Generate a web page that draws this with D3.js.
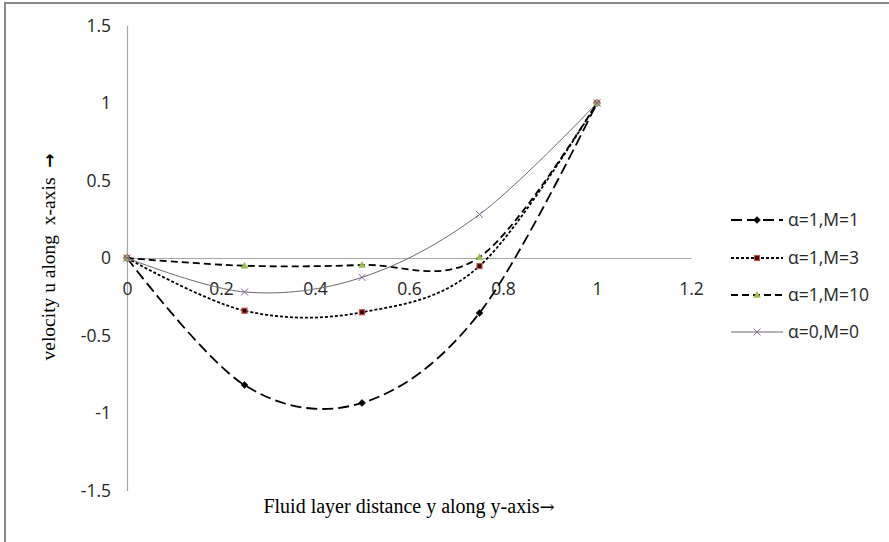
<!DOCTYPE html>
<html>
<head>
<meta charset="utf-8">
<script src="https://cdn.jsdelivr.net/npm/d3@7"></script>
<style>
  html, body { margin: 0; padding: 0; background: #fff; }
  svg { display: block; }
</style>
</head>
<body>
<svg id="chart" width="889" height="542"></svg>
<script>
// ---- data ----
const xValues = [0, 0.25, 0.5, 0.75, 1];
const seriesNames = ["α=1,M=1", "α=1,M=3", "α=1,M=10", "α=0,M=0"];
const valuesM1 = [0, -0.82, -0.935, -0.355, 1];
const valuesM3 = [0, -0.34, -0.35, -0.052, 1];
const valuesM10 = [0, -0.05, -0.045, 0.005, 1];
const valuesM0 = [0, -0.219, -0.125, 0.281, 1];
const xTicks = [0, 0.2, 0.4, 0.6, 0.8, 1, 1.2];
const yTicks = [-1.5, -1, -0.5, 0, 0.5, 1, 1.5];
const xTitle = "Fluid layer distance y along y-axis";
const yTitle = "velocity u along  x-axis  ";
const arrow = "→";

const allValues = [valuesM1, valuesM3, valuesM10, valuesM0];
const styles = [
  { stroke: "#000", width: 1.8, dash: "11,5", marker: "diamond", mfill: "#000", mstroke: "#000" },
  { stroke: "#000", width: 1.8, dash: "3,2", marker: "square", mfill: "#300", mstroke: "#c0504d" },
  { stroke: "#000", width: 1.8, dash: "7,4", marker: "triangle", mfill: "#9bbb59", mstroke: "#9bbb59" },
  { stroke: "#6a6a6a", width: 1, dash: null, marker: "cross", mfill: "none", mstroke: "#8064a2" }
];

const svg = d3.select("#chart");
const fmt = d => String(d).replace("\u2212", "-");

// outer border
svg.append("path")
  .attr("d", "M5,542 L5,3 L889,3")
  .attr("fill", "none").attr("stroke", "#8a8a8a").attr("stroke-width", 2);

const x = d3.scaleLinear().domain([0, 1.2]).range([127, 691]);
const y = d3.scaleLinear().domain([-1.5, 1.5]).range([490.5, 25.5]);

const tickFont = "Open Sans, Liberation Sans, Arial, sans-serif";
const tickSize = "17.5px";

// axes
const yAxis = svg.append("g").attr("transform", `translate(${x(0)},0)`)
  .call(d3.axisLeft(y).tickValues(yTicks).tickSize(0).tickPadding(16).tickFormat(fmt));
yAxis.select(".domain").attr("stroke", "#a6a6a6").attr("stroke-width", 1.2);
yAxis.selectAll("text").attr("font-family", tickFont)
  .attr("font-size", tickSize).attr("fill", "#262626");

const xAxis = svg.append("g").attr("transform", `translate(0,${y(0)})`)
  .call(d3.axisBottom(x).tickValues(xTicks).tickSize(0).tickPadding(25).tickFormat(fmt));
xAxis.select(".domain").attr("stroke", "#a6a6a6").attr("stroke-width", 1.2);
xAxis.selectAll("text").attr("font-family", tickFont)
  .attr("font-size", tickSize).attr("fill", "#262626");

// titles
const xt = svg.append("text").attr("x", 409).attr("y", 513).attr("text-anchor", "middle")
  .attr("font-family", "Liberation Serif, Times New Roman, serif").attr("font-size", "20px")
  .attr("fill", "#000");
xt.append("tspan").text(xTitle);
xt.append("tspan").attr("font-family", "DejaVu Serif, serif").attr("font-size", "18px").text(arrow);

const yt = svg.append("text").attr("transform", "translate(55,257) rotate(-90)").attr("text-anchor", "middle")
  .attr("font-family", "Liberation Serif, Times New Roman, serif").attr("font-size", "19.5px")
  .attr("fill", "#000").style("white-space", "pre");
yt.append("tspan").text(yTitle);
yt.append("tspan").attr("font-family", "DejaVu Sans, sans-serif").attr("font-weight", "bold")
  .attr("font-size", "17px").text(arrow);

function drawMarker(g, type, cx, cy, st) {
  if (type === "diamond") {
    g.append("path").attr("d", `M${cx},${cy-3.5}L${cx+3.5},${cy}L${cx},${cy+3.5}L${cx-3.5},${cy}Z`)
      .attr("fill", st.mfill).attr("stroke", st.mstroke).attr("stroke-width", 0.5);
  } else if (type === "square") {
    g.append("rect").attr("x", cx - 2.5).attr("y", cy - 2.5).attr("width", 5).attr("height", 5)
      .attr("fill", st.mfill).attr("stroke", st.mstroke).attr("stroke-width", 1.2);
  } else if (type === "triangle") {
    g.append("path").attr("d", `M${cx},${cy-3.5}L${cx+3.5},${cy+2.5}L${cx-3.5},${cy+2.5}Z`)
      .attr("fill", st.mfill).attr("stroke", st.mstroke).attr("stroke-width", 0.5);
  } else if (type === "cross") {
    g.append("path").attr("d", `M${cx-3.5},${cy-3.5}L${cx+3.5},${cy+3.5}M${cx+3.5},${cy-3.5}L${cx-3.5},${cy+3.5}`)
      .attr("fill", "none").attr("stroke", st.mstroke).attr("stroke-width", 1);
  }
}

const line = d3.line().x(d => x(d[0])).y(d => y(d[1])).curve(d3.curveCardinal.tension(0));

allValues.forEach((vals, i) => {
  const st = styles[i];
  const pts = xValues.map((xv, j) => [xv, vals[j]]);
  const g = svg.append("g");
  const p = g.append("path").attr("d", line(pts)).attr("fill", "none")
    .attr("stroke", st.stroke).attr("stroke-width", st.width);
  if (st.dash) p.attr("stroke-dasharray", st.dash);
  pts.forEach(pt => drawMarker(g, st.marker, x(pt[0]), y(pt[1]), st));
});

// legend
const legY = [220, 258, 295, 332];
seriesNames.forEach((name, i) => {
  const st = styles[i];
  const g = svg.append("g");
  const l = g.append("line").attr("x1", 731).attr("x2", 783).attr("y1", legY[i]).attr("y2", legY[i])
    .attr("stroke", st.stroke).attr("stroke-width", st.width);
  if (st.dash) l.attr("stroke-dasharray", st.dash);
  drawMarker(g, st.marker, 757, legY[i], st);
  g.append("text").attr("x", 788).attr("y", legY[i]).attr("dy", "0.35em")
    .attr("font-family", tickFont).attr("font-size", tickSize)
    .attr("fill", "#262626").text(name);
});
</script>
</body>
</html>
